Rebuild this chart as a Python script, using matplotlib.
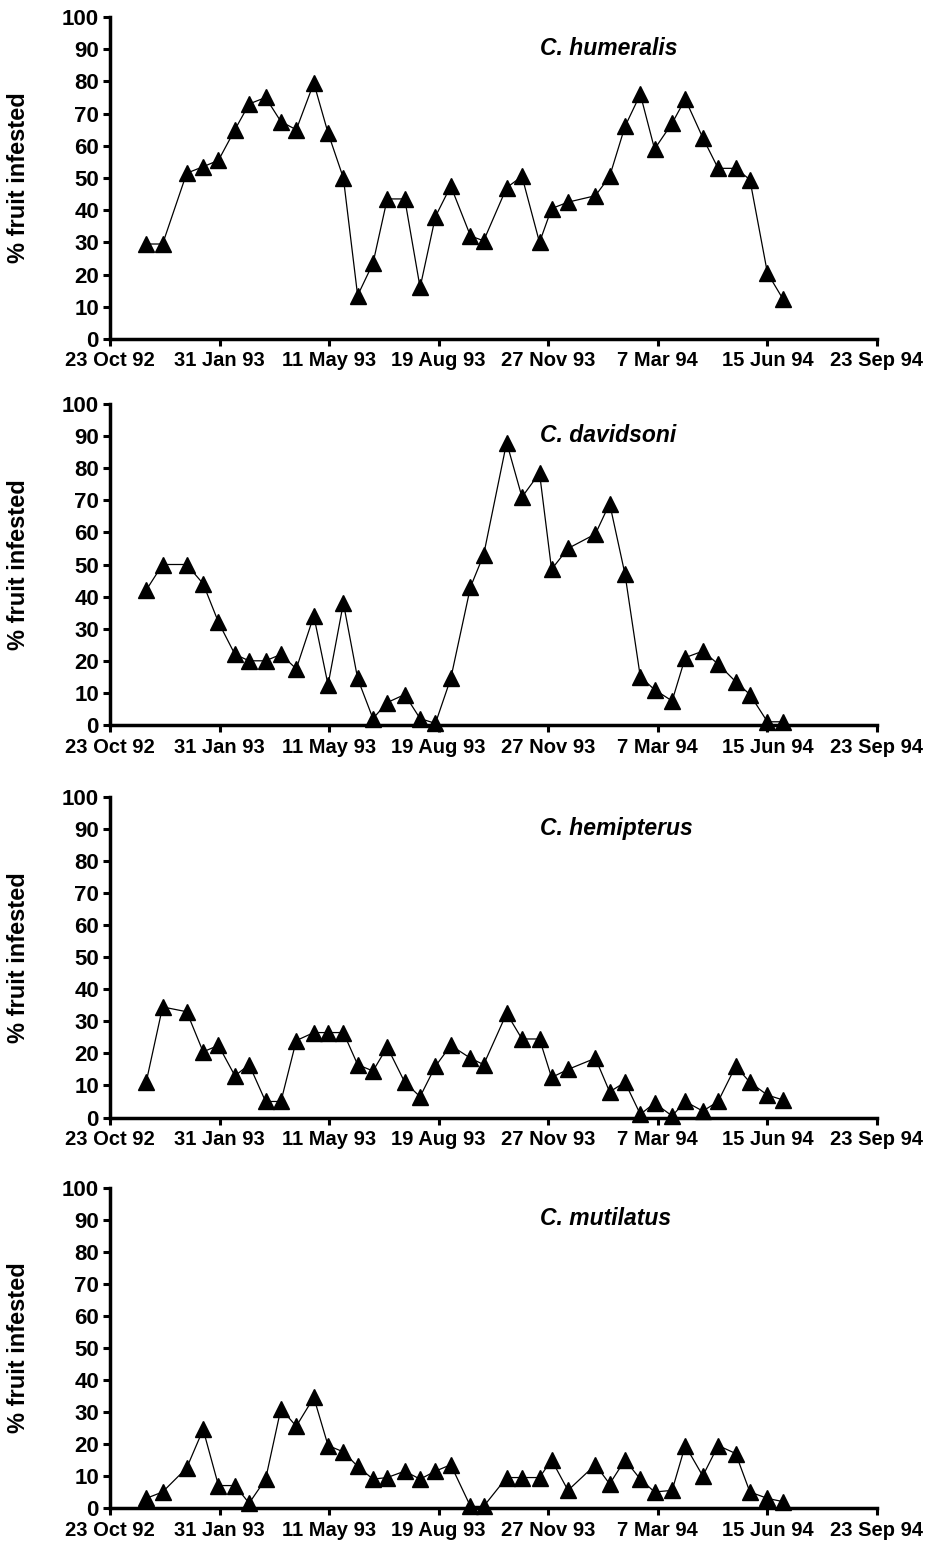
import matplotlib
matplotlib.use("Agg")
import matplotlib.pyplot as plt

# Sampling dates, in days after 23 Oct 92
days = [33, 48, 70, 85, 99, 114, 127, 142, 156, 170, 186, 199, 213, 226, 240,
        253, 269, 283, 297, 311, 329, 341, 362, 376, 392, 403, 418, 443, 456, 470,
        484, 497, 513, 525, 541, 555, 571, 584, 600, 614]

humeralis = [29.5, 29.5, 51.5, 53.5, 55.5, 65, 73, 75, 67.5, 65, 79.5, 64, 50, 13.5,
             23.5, 43.5, 43.5, 16, 38, 47.5, 32, 30.5, 47, 50.5, 30, 40.5, 42.5, 44.5,
             50.5, 66, 76, 59, 67, 74.5, 62.5, 53, 53, 49.5, 20.5, 12.5]
davidsoni = [42, 50, 50, 44, 32, 22, 20, 20, 22, 17.5, 34, 12.5, 38, 14.5, 2, 7, 9.5,
             2, 0.5, 14.5, 43, 53, 88, 71, 78.5, 48.5, 55, 59.5, 69, 47, 15, 11, 7.5,
             21, 23, 19, 13.5, 9.5, 1, 1]
hemipterus = [11, 34.5, 33, 20.5, 22.5, 13, 16.5, 5, 5, 24, 26.5, 26.5, 26.5, 16.5,
              14.5, 22, 11, 6.5, 16, 22.5, 18.5, 16.5, 32.5, 24.5, 24.5, 12.5, 15,
              18.5, 8, 11, 1, 4.5, 0.5, 5, 2, 5, 16, 11, 7, 5.5]
mutilatus = [3, 5, 12.5, 24.5, 7, 7, 1.5, 9, 31, 25.5, 34.5, 19.5, 17.5, 13, 9, 9.5,
             11.5, 9, 11.5, 13.5, 0.5, 0.5, 9.5, 9.5, 9.5, 15, 5.5, 13.5, 7.5, 15, 9,
             5, 5.5, 19.5, 10, 19.5, 17, 5, 3, 2]

species = ["C. humeralis", "C. davidsoni", "C. hemipterus", "C. mutilatus"]
series = [humeralis, davidsoni, hemipterus, mutilatus]

x_ticks = [0, 100, 200, 300, 400, 500, 600, 700]
x_labels = ["23 Oct 92", "31 Jan 93", "11 May 93", "19 Aug 93", "27 Nov 93",
            "7 Mar 94", "15 Jun 94", "23 Sep 94"]
y_ticks = list(range(0, 101, 10))
ylabel = "% fruit infested"

plt.rcParams['font.family'] = ['Liberation Sans', 'DejaVu Sans']
plt.rcParams['font.weight'] = 'bold'

W, H = 933, 1541
fig = plt.figure(figsize=(W / 100, H / 100), dpi=100)

# (top_px, bottom_px) of each axes
panels_px = [(17, 339), (404, 725), (797, 1117.5), (1187.5, 1508)]
left_px, right_px = 110, 877

for (top, bot), name, vals in zip(panels_px, species, series):
    ax = fig.add_axes([left_px / W, 1 - bot / H, (right_px - left_px) / W, (bot - top) / H])
    ax.plot(days, vals, color='black', lw=0.9, marker='^', ms=12,
            markerfacecolor='black', markeredgecolor='black', clip_on=False, zorder=3)
    ax.set_xlim(0, 700)
    ax.set_ylim(0, 100)
    ax.set_xticks(x_ticks)
    ax.set_xticklabels(x_labels, fontsize=14.5, fontweight='bold')
    ax.set_yticks(y_ticks)
    ax.set_yticklabels([str(v) for v in y_ticks], fontsize=16, fontweight='bold')
    for s in ['top', 'right']:
        ax.spines[s].set_visible(False)
    for s in ['left', 'bottom']:
        ax.spines[s].set_linewidth(2.5)
    ax.tick_params(axis='both', direction='out', length=5, width=2.2, color='black')
    ax.tick_params(axis='x', pad=4)
    ax.tick_params(axis='y', pad=3)
    ax.text(392, 90.2, name, fontsize=16.5, fontweight='bold', fontstyle='italic',
            ha='left', va='center')
    fig.text(19 / W, 1 - ((top + bot) / 2) / H, ylabel, rotation=90, fontsize=17,
             fontweight='bold', ha='center', va='center')

fig.savefig("out.png", dpi=100)
